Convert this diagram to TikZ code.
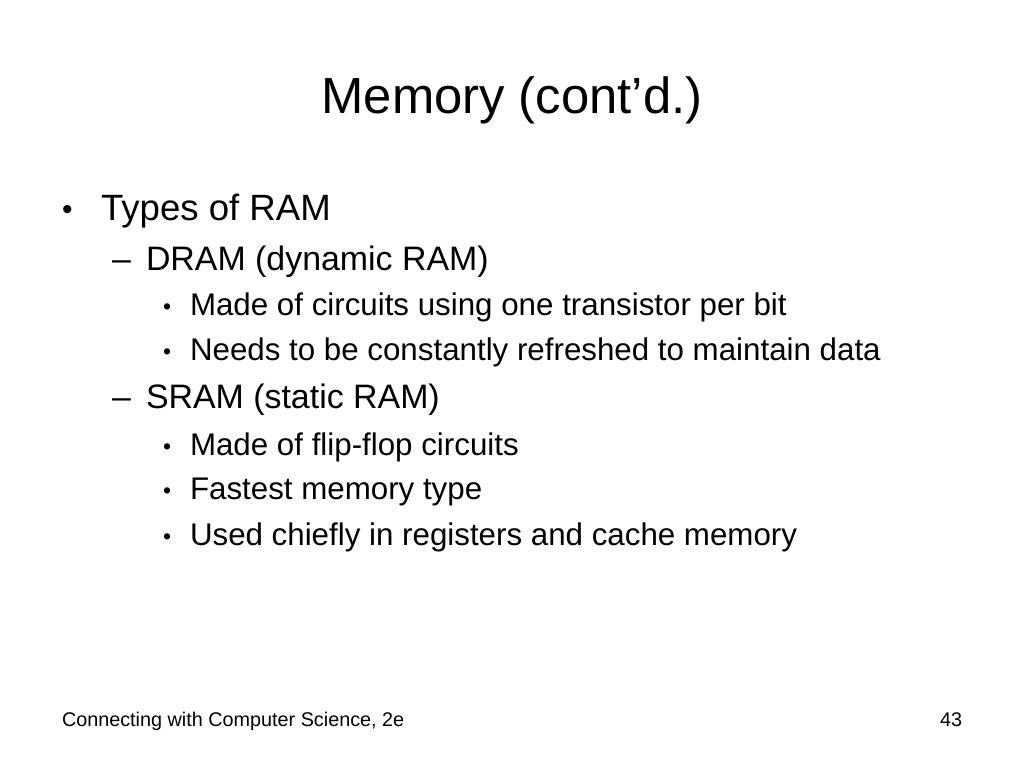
\documentclass[tikz,border=0pt]{standalone}
\usepackage{fontspec}
\setmainfont{Liberation Sans}
\tikzstyle{slidetext}=[anchor=base west,inner sep=0pt,outer sep=0pt]
\tikzstyle{headline}=[anchor=base,inner sep=0pt,font=\fontsize{50.8}{60}\selectfont]
\tikzstyle{levelone}=[slidetext,font=\fontsize{36.6}{44}\selectfont]
\tikzstyle{leveltwo}=[slidetext,font=\fontsize{33.9}{40}\selectfont]
\tikzstyle{levelthree}=[slidetext,font=\fontsize{31.3}{38}\selectfont]
\tikzstyle{markone}=[slidetext,font=\fontsize{30}{34}\selectfont]
\tikzstyle{markthree}=[slidetext,font=\fontsize{23}{27}\selectfont]
\tikzstyle{footer}=[slidetext,font=\fontsize{19.8}{24}\selectfont]

\begin{document}
\begin{tikzpicture}[x=1pt,y=-1pt]
\useasboundingbox[fill=white] (0,0) rectangle (1024,768);
\node[headline] at (512,113) (title) {Memory (cont’d.)};
\node[markone] at (62,219) (types-mark) {•};
\node[levelone] at (101,220) (types) {Types of RAM};
\node[leveltwo] at (112,270) (dram-mark) {–};
\node[leveltwo] at (146,270) (dram) {DRAM (dynamic RAM)};
\node[markthree] at (163,314) (dram-a-mark) {•};
\node[levelthree] at (190,315) (dram-a) {Made of circuits using one transistor per bit};
\node[markthree] at (163,359) (dram-b-mark) {•};
\node[levelthree] at (190,360) (dram-b) {Needs to be constantly refreshed to maintain data};
\node[leveltwo] at (112,408) (sram-mark) {–};
\node[leveltwo] at (146,408) (sram) {SRAM (static RAM)};
\node[markthree] at (163,454) (sram-a-mark) {•};
\node[levelthree] at (190,455) (sram-a) {Made of flip-flop circuits};
\node[markthree] at (163,498) (sram-b-mark) {•};
\node[levelthree] at (190,499) (sram-b) {Fastest memory type};
\node[markthree] at (163,544) (sram-c-mark) {•};
\node[levelthree] at (190,545) (sram-c) {Used chiefly in registers and cache memory};
\node[footer] at (62,726) (book) {Connecting with Computer Science, 2e};
\node[footer] at (940,726) (page) {43};
\end{tikzpicture}
\end{document}
